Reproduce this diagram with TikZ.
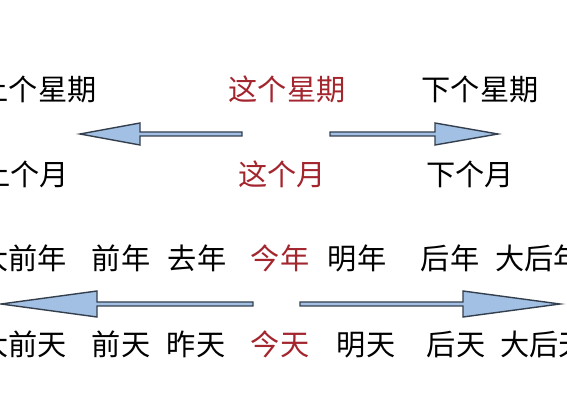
\documentclass[tikz,border=0pt]{standalone}
\usepackage{fontspec}
\newfontfamily\cjk{Noto Sans CJK SC}
\usetikzlibrary{positioning}
\definecolor{nowred}{HTML}{A3252E}
\definecolor{arrowfill}{HTML}{A2C0E3}
\definecolor{arrowline}{HTML}{343F4E}

\begin{document}
\begin{tikzpicture}[
    x=0.5pt, y=-0.5pt,
    word/.style={font=\cjk\fontsize{14.6}{16}\selectfont, inner sep=0pt, text height=11pt, text depth=0pt, anchor=mid},
    now/.style={word, text=nowred},
    blk/.style={draw=arrowline, fill=arrowfill, line width=0.7pt, line join=miter}
]
    \useasboundingbox (0,0) rectangle (567,400);
    \clip (0,0) rectangle (567,400);

    % weeks
    \node[word] (lastweek) at (38,96) {上个星期};
    \node[now] (thisweek) at (287,96) {这个星期};
    \node[word] (nextweek) at (480,96) {下个星期};

    % months
    \node[word] (lastmonth) at (25,181) {上个月};
    \node[now] (thismonth) at (282,181) {这个月};
    \node[word] (nextmonth) at (470,181) {下个月};

    % years
    \node[word] (yrthreeb) at (23,265) {大前年};
    \node[word] (yrtwob) at (121,265) {前年};
    \node[word] (yroneb) at (197,265) {去年};
    \node[now] (yrnow) at (280,265) {今年};
    \node[word] (yronea) at (357,265) {明年};
    \node[word] (yrtwoa) at (450,265) {后年};
    \node[word] (yrthreea) at (539,265) {大后年};

    % days
    \node[word] (dythreeb) at (23,351) {大前天};
    \node[word] (dytwob) at (121,351) {前天};
    \node[word] (dyoneb) at (196,351) {昨天};
    \node[now] (dynow) at (280,351) {今天};
    \node[word] (dyonea) at (366,351) {明天};
    \node[word] (dytwoa) at (456,351) {后天};
    \node[word] (dythreea) at (544,351) {大后天};

    % block arrows
    \coordinate (pastweek) at (242,134);
    \coordinate (futureweek) at (330,134);
    \coordinate (pastday) at (253,304);
    \coordinate (futureday) at (300,304);

    \draw[blk] (pastweek) ++(0,-2) -- ++(-102,0) -- ++(0,-9) -- ++(-60,11) -- ++(60,11) -- ++(0,-9) -- ++(102,0) -- cycle;
    \draw[blk] (futureweek) ++(0,-2) -- ++(105,0) -- ++(0,-9) -- ++(63,11) -- ++(-63,11) -- ++(0,-9) -- ++(-105,0) -- cycle;
    \draw[blk] (pastday) ++(0,-2) -- ++(-156,0) -- ++(0,-11) -- ++(-96,13) -- ++(96,13) -- ++(0,-11) -- ++(156,0) -- cycle;
    \draw[blk] (futureday) ++(0,-2) -- ++(163,0) -- ++(0,-11) -- ++(97,13) -- ++(-97,13) -- ++(0,-11) -- ++(-163,0) -- cycle;
\end{tikzpicture}
\end{document}
